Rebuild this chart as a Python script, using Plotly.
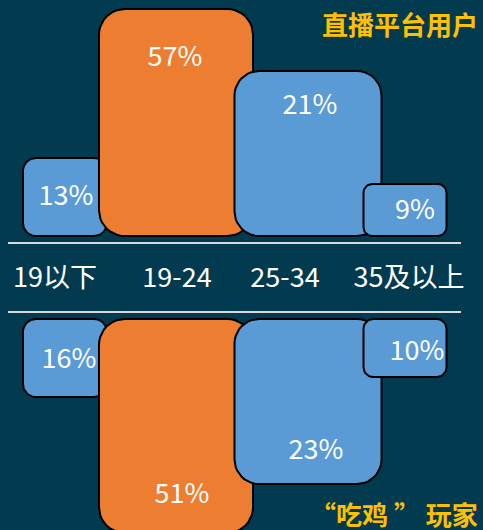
import plotly.graph_objects as go

# data
categories = ["19以下", "19-24", "25-34", "35及以上"]
live_share = [13, 57, 21, 9]        # 直播平台用户 (%)
pubg_share = [16, 51, 23, 10]       # "吃鸡"玩家 (%)
# drawn bar lengths (the infographic does not scale bars to the percentages)
live_height = [78, 227, 165, 52]
pubg_height = [78, 214, 165, 58]

# layout constants (axis units = pixels)
bar_x = [65, 176, 308, 405]
bar_w = [84, 154, 147, 83]
pubg_base = -83
cat_x = [55, 177, 285, 409]
cat_y = -44
live_lbl_frac = [0.49, 0.78, 0.78, 0.46]
pubg_lbl_frac = [0.54, 0.83, 0.81, 0.59]
live_lbl_dx = [1, -1, 2, 10]
pubg_lbl_dx = [4, 6, 8, 12]

BG = "#023b4f"
BLUE = "#5b9bd5"
ORANGE = "#ed7d31"
GOLD = "#ffc000"
FONT = "Noto Sans CJK SC"
colors = [BLUE, ORANGE, BLUE, BLUE]


def rounded_rect(x0, x1, y0, y1, r, n=10):
    import math
    xs, ys = [], []
    corners = [(x1 - r, y1 - r, 0), (x0 + r, y1 - r, 90), (x0 + r, y0 + r, 180), (x1 - r, y0 + r, 270)]
    for cx, cy, a0 in corners:
        for k in range(n + 1):
            a = math.radians(a0 + 90 * k / n)
            xs.append(cx + r * math.cos(a))
            ys.append(cy + r * math.sin(a))
    xs.append(xs[0])
    ys.append(ys[0])
    return xs, ys


fig = go.Figure()


def add_bars(heights, shares, base, sign, fracs, dxs):
    for i in range(len(categories)):
        x0 = bar_x[i] - bar_w[i] / 2
        x1 = bar_x[i] + bar_w[i] / 2
        ya = base
        yb = base + sign * heights[i]
        r = min(bar_w[i], heights[i]) / 6
        xs, ys = rounded_rect(x0, x1, min(ya, yb), max(ya, yb), r)
        fig.add_trace(go.Scatter(x=xs, y=ys, mode="lines", fill="toself",
                                 fillcolor=colors[i],
                                 line=dict(color="black", width=2),
                                 hoverinfo="skip", showlegend=False))
    fig.add_trace(go.Scatter(
        x=[bar_x[i] + dxs[i] for i in range(len(categories))],
        y=[base + sign * heights[i] * fracs[i] for i in range(len(categories))],
        mode="text", text=[f"{v}%" for v in shares],
        textfont=dict(family=FONT, size=27, color="white"),
        hoverinfo="skip", showlegend=False))


add_bars(live_height, live_share, 0, 1, live_lbl_frac, live_lbl_dx)
add_bars(pubg_height, pubg_share, pubg_base, -1, pubg_lbl_frac, pubg_lbl_dx)

fig.add_trace(go.Scatter(x=cat_x, y=[cat_y] * len(cat_x), mode="text", text=categories,
                         textfont=dict(family=FONT, size=27, color="white"),
                         hoverinfo="skip", showlegend=False))

for yl in [-7, -76]:
    fig.add_shape(type="line", x0=8, x1=461, y0=yl, y1=yl,
                  line=dict(color="#d9d9d9", width=2))

fig.add_annotation(x=480, y=213, text="<b>直播平台用户</b>", showarrow=False,
                   xanchor="right", yanchor="middle",
                   font=dict(family=FONT, size=26, color=GOLD))
fig.add_annotation(x=480, y=-277, text="<b>“吃鸡 ” 玩家</b>", showarrow=False,
                   xanchor="right", yanchor="middle",
                   font=dict(family=FONT, size=26, color=GOLD))

fig.update_layout(
    width=483,
    height=530,
    autosize=False,
    margin=dict(l=0, r=0, t=0, b=0),
    paper_bgcolor=BG,
    plot_bgcolor=BG,
    xaxis=dict(range=[0, 483], visible=False, fixedrange=True),
    yaxis=dict(range=[-294, 236], visible=False, fixedrange=True),
)

fig.write_html("out.html", config={"displayModeBar": False},
               post_script="document.body.style.margin='0';document.body.style.overflow='hidden';")
